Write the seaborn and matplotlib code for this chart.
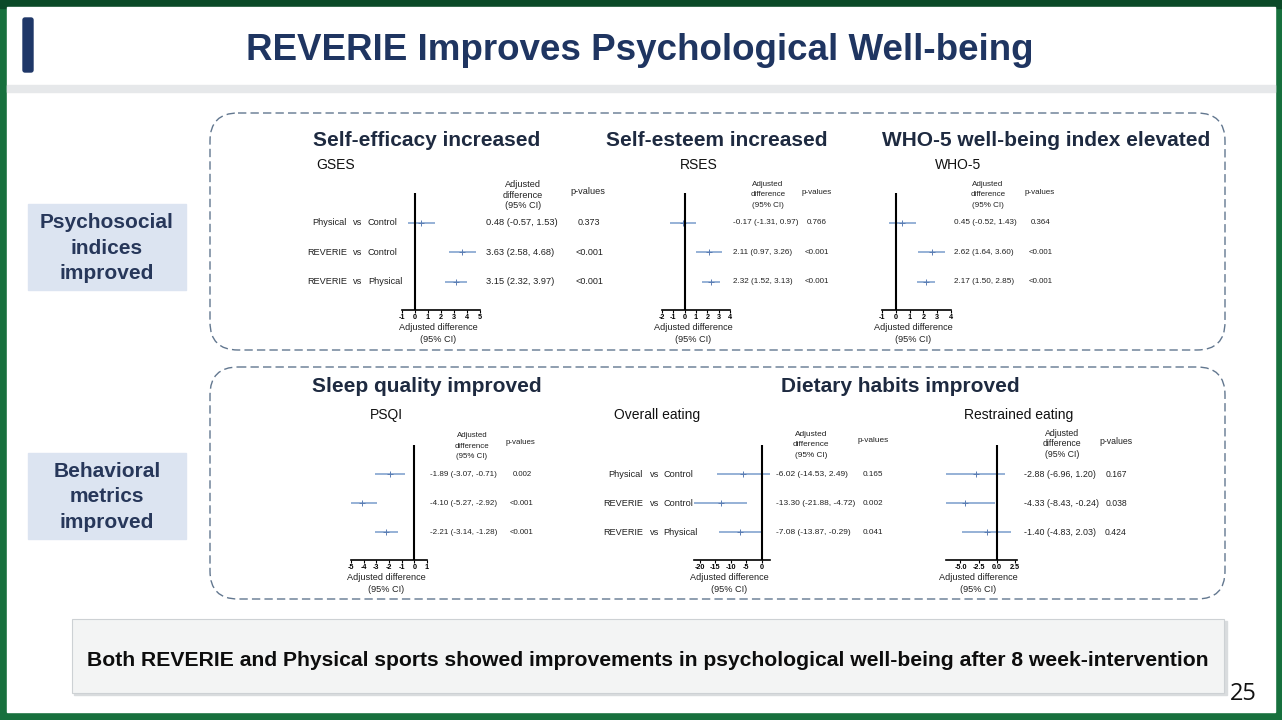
import numpy as np
import pandas as pd
import matplotlib
matplotlib.use("Agg")
import matplotlib.pyplot as plt
import seaborn as sns
from matplotlib.patches import FancyBboxPatch, Rectangle
from matplotlib.transforms import blended_transform_factory as btf

# ---------------- data ----------------
group_left = ["Physical", "REVERIE", "REVERIE"]
group_right = ["Control", "Control", "Physical"]

gses_est = [0.48, 3.63, 3.15]
gses_lo = [-0.57, 2.58, 2.32]
gses_hi = [1.53, 4.68, 3.97]
gses_p = ["0.373", "<0.001", "<0.001"]

rses_est = [-0.17, 2.11, 2.32]
rses_lo = [-1.31, 0.97, 1.52]
rses_hi = [0.97, 3.26, 3.13]
rses_p = ["0.766", "<0.001", "<0.001"]

who5_est = [0.45, 2.62, 2.17]
who5_lo = [-0.52, 1.64, 1.50]
who5_hi = [1.43, 3.60, 2.85]
who5_p = ["0.364", "<0.001", "<0.001"]

psqi_est = [-1.89, -4.10, -2.21]
psqi_lo = [-3.07, -5.27, -3.14]
psqi_hi = [-0.71, -2.92, -1.28]
psqi_p = ["0.002", "<0.001", "<0.001"]

overall_est = [-6.02, -13.30, -7.08]
overall_lo = [-14.53, -21.88, -13.87]
overall_hi = [2.49, -4.72, -0.29]
overall_p = ["0.165", "0.002", "0.041"]

restr_est = [-2.88, -4.33, -1.40]
restr_lo = [-6.96, -8.43, -4.83]
restr_hi = [1.20, -0.24, 2.03]
restr_p = ["0.167", "0.038", "0.424"]

gses_ticks = [-1, 0, 1, 2, 3, 4, 5]
rses_ticks = [-2, -1, 0, 1, 2, 3, 4]
who5_ticks = [-1, 0, 1, 2, 3, 4]
psqi_ticks = [-5, -4, -3, -2, -1, 0, 1]
overall_ticks = [-20, -15, -10, -5, 0]
restr_ticks = [-5.0, -2.5, 0.0, 2.5]

main_title = "REVERIE Improves Psychological Well-being"
section_titles = ["Self-efficacy increased", "Self-esteem increased",
                  "WHO-5 well-being index elevated", "Sleep quality improved",
                  "Dietary habits improved"]
scale_names = ["GSES", "RSES", "WHO-5", "PSQI", "Overall eating", "Restrained eating"]
side_labels = [["Psychosocial", "indices", "improved"], ["Behavioral", "metrics", "improved"]]
banner_text = ("Both REVERIE and Physical sports showed improvements in "
               "psychological well-being after 8 week-intervention")
page_no = "25"

# ---------------- style ----------------
W, H = 1282, 720
sns.set_theme(style="white")
plt.rcParams['font.family'] = ['Liberation Sans', 'DejaVu Sans']
plt.rcParams['axes.unicode_minus'] = False

NAVY = "#1f3561"
CI_COL = "#8eabd3"
PT_COL = "#5b7db3"
DASH_COL = "#62778f"
TXT = "#222222"

fig = plt.figure(figsize=(W / 100, H / 100), dpi=100)
fig.patch.set_facecolor("#17703d")
bg = fig.add_axes([0, 0, 1, 1])
bg.set_xlim(0, W)
bg.set_ylim(H, 0)
bg.axis("off")

# frame and slide
bg.add_patch(Rectangle((0, 0), W, 8, color="#0b4a28", zorder=0))
bg.add_patch(Rectangle((7, 7), 1268, 705, color="white", zorder=1))
bg.add_patch(Rectangle((7, 85), 1268, 7, color="#e6e8ea", zorder=1.5))
bg.add_patch(FancyBboxPatch((23, 18), 10, 54, boxstyle="round,pad=0,rounding_size=2",
                            color="#1f3768", zorder=2))
bg.text(640, 50, main_title, ha="center", va="center", fontsize=26.5,
        fontweight="bold", color=NAVY, zorder=3)

# dashed rounded boxes
for (x0, y0, x1, y1) in [(210, 113, 1225, 350), (210, 367, 1225, 599)]:
    bg.add_patch(FancyBboxPatch((x0, y0), x1 - x0, y1 - y0,
                                boxstyle="round,pad=0,rounding_size=28",
                                fill=False, edgecolor=DASH_COL, lw=1.0,
                                linestyle=(0, (6, 3)), zorder=2))

# side labels
for (y0, y1), lines in zip([(204, 290), (453, 539)], side_labels):
    bg.add_patch(Rectangle((28, y0), 158, y1 - y0, color="#dce4f1", zorder=2))
    yc = (y0 + y1) / 2 + 1
    for i, t in enumerate(lines):
        bg.text(107, yc + (i - 1) * 25.5, t, ha="center", va="center", fontsize=15,
                fontweight="bold", color="#27375a", zorder=3)

# section titles
for (x, y), t in zip([(427, 140), (717, 140), (1046, 140), (427, 387), (900, 387)],
                     section_titles):
    bg.text(x, y, t, ha="center", va="center", fontsize=15, fontweight="bold",
            color="#1e2a40", zorder=3)

# scale names
for (x, y), t in zip([(316, 165), (680, 165), (935, 165), (370, 415), (614, 415), (964, 415)],
                     scale_names):
    bg.text(x, y, t, ha="left", va="center", fontsize=10, color="#111111", zorder=3)

# banner
bg.add_patch(Rectangle((74, 621), 1153, 74, color="#d9dcde", zorder=2))
bg.add_patch(Rectangle((72, 619), 1152, 74, facecolor="#f3f4f4", edgecolor="#cdd1d4",
                       lw=0.8, zorder=2.5))
bg.text(648, 660, banner_text, ha="center", va="center", fontsize=15.2,
        fontweight="bold", color="#0d0d0d", zorder=3)
bg.text(1243, 694, page_no, ha="center", va="center", fontsize=17,
        family=["Open Sans", "DejaVu Sans"], color="#111111", zorder=3)


# ---------------- forest panels ----------------
def forest(px_l, px_r, px_t, px_b, xlim, ticks, tick_labels, est, lo, hi, pvals,
           val_x, p_x, adj_x, adj_y, ph_x, ph_y, k=1.0, labels=None):
    ax = fig.add_axes([px_l / W, 1 - px_b / H, (px_r - px_l) / W, (px_b - px_t) / H])
    ax.patch.set_alpha(0)
    rows = np.arange(len(est))
    df = pd.DataFrame({"est": est, "row": rows})
    ax.hlines(rows, lo, hi, color=CI_COL, lw=1.3, zorder=2)
    sns.scatterplot(data=df, x="est", y="row", marker="+", s=14, linewidth=0.7,
                    color=PT_COL, ax=ax, legend=False, zorder=3)
    ax.axvline(0, color="black", lw=1.5, zorder=4)
    ax.set_xlim(xlim)
    ax.set_ylim(2.95, -1.0)
    for s in ["top", "left", "right"]:
        ax.spines[s].set_visible(False)
    ax.spines["bottom"].set_color("black")
    ax.spines["bottom"].set_linewidth(1.2)
    ax.set_yticks([])
    ax.set_xticks(ticks)
    ax.set_xticklabels(tick_labels, fontsize=5.2, fontweight="bold")
    ax.tick_params(axis="x", bottom=True, length=2, width=0.8, pad=0.8,
                   colors="black", direction="out")
    ax.set_xlabel("")
    ax.set_ylabel("")
    tr = btf(bg.transData, ax.transData)
    for r, e, l, h, p in zip(rows, est, lo, hi, pvals):
        ax.text(val_x, r, f"{e:.2f} ({l:.2f}, {h:.2f})", transform=tr, ha="left",
                va="center", fontsize=6.7 * k, color=TXT, clip_on=False)
        ax.text(p_x, r, p, transform=tr, ha="center", va="center", fontsize=6.5 * k,
                color=TXT, clip_on=False)
    if labels is not None:
        g1x, vsx, g2x = labels
        for r, a, b in zip(rows, group_left, group_right):
            ax.text(g1x, r, a, transform=tr, ha="right", va="center", fontsize=6.6,
                    color=TXT, clip_on=False)
            ax.text(vsx, r, "vs", transform=tr, ha="center", va="center", fontsize=6.6,
                    color=TXT, clip_on=False)
            ax.text(g2x, r, b, transform=tr, ha="left", va="center", fontsize=6.6,
                    color=TXT, clip_on=False)
    # header
    for i, t in enumerate(["Adjusted", "difference", "(95% CI)"]):
        bg.text(adj_x, adj_y + (i - 1) * 10.5, t, ha="center", va="center",
                fontsize=6.6 * k, color=TXT, zorder=3)
    bg.text(ph_x, ph_y, "p-values", ha="center", va="center", fontsize=6.6 * k,
            color=TXT, zorder=3)
    # x label
    cx = (px_l + px_r) / 2 - 3
    bg.text(cx, px_b + 18, "Adjusted difference", ha="center", va="center",
            fontsize=6.6, color=TXT, zorder=3)
    bg.text(cx, px_b + 29, "(95% CI)", ha="center", va="center",
            fontsize=6.6, color=TXT, zorder=3)
    return ax


def fmt_int(t):
    return [f"{v:d}" for v in t]


forest(402, 480, 193, 310, (-1, 5), gses_ticks, fmt_int(gses_ticks),
       gses_est, gses_lo, gses_hi, gses_p, 486, 589, 523, 195, 588, 192, k=1.0,
       labels=(347, 357.5, 368))
forest(662, 730, 193, 310, (-2, 4), rses_ticks, fmt_int(rses_ticks),
       rses_est, rses_lo, rses_hi, rses_p, 733, 817, 768, 195, 817, 192, k=0.88)
forest(882, 951, 193, 310, (-1, 4), who5_ticks, fmt_int(who5_ticks),
       who5_est, who5_lo, who5_hi, who5_p, 954, 1041, 988, 195, 1040, 192, k=0.87)
forest(351, 427, 445, 560, (-5, 1), psqi_ticks, fmt_int(psqi_ticks),
       psqi_est, psqi_lo, psqi_hi, psqi_p, 430, 522, 472, 446, 520, 443, k=0.86)
forest(694, 770, 445, 560, (-21.9, 2.6), overall_ticks, fmt_int(overall_ticks),
       overall_est, overall_lo, overall_hi, overall_p, 776, 873, 811, 445, 873, 440,
       k=0.9, labels=(643, 655, 663))
forest(946, 1017, 445, 560, (-7.0, 2.8), restr_ticks, [f"{v:.1f}" for v in restr_ticks],
       restr_est, restr_lo, restr_hi, restr_p, 1024, 1116, 1062, 444, 1116, 441, k=0.95)

fig.savefig("out.png", dpi=100, facecolor=fig.get_facecolor())
